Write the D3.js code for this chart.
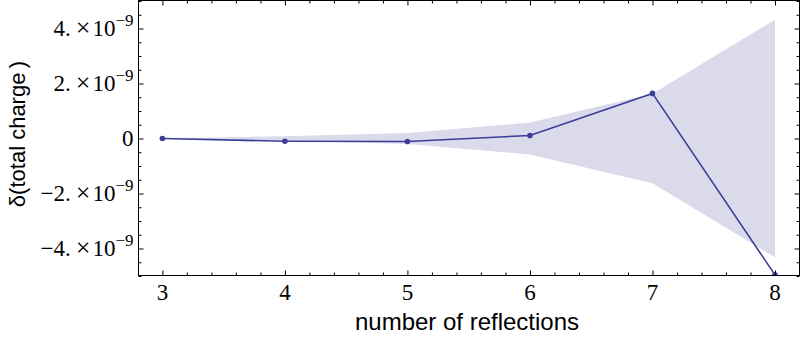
<!DOCTYPE html>
<html>
<head>
<meta charset="utf-8">
<script src="https://cdn.jsdelivr.net/npm/d3@7/dist/d3.min.js"></script>
<style>
  body { margin: 0; background: #fff; }
  svg { display: block; }
</style>
</head>
<body>
<div id="chart"></div>
<script>
// reflections vs charge error
var reflections = [3, 4, 5, 6, 7, 8];
var deltaCharge = [0, -0.10e-9, -0.11e-9, 0.11e-9, 1.64e-9, -4.96e-9];
var bandHalf = [0.01e-9, 0.08e-9, 0.20e-9, 0.58e-9, 1.63e-9, 4.32e-9];
var xTicks = [3, 4, 5, 6, 7, 8];
var yTicks = [-4e-9, -2e-9, 0, 2e-9, 4e-9];
var yTickMant = ["\u22124.", "\u22122.", "0", "2.", "4."];

var width = 800, height = 339;
var pLeft = 138.5, pRight = 799.5, pTop = 0.5, pBottom = 275.5;

var svg = d3.select("#chart")
    .append("svg")
    .attr("width", width)
    .attr("height", height);

var x = d3.scaleLinear().domain([2.805, 8.2]).range([pLeft, pRight]);
var y = d3.scaleLinear().domain([-5e-9, 5e-9]).range([pBottom + 0.5, pTop + 0.5]);

var lineColor = "#3d3d99";

svg.append("clipPath").attr("id", "clip")
  .append("rect")
    .attr("x", pLeft).attr("y", pTop)
    .attr("width", pRight - pLeft).attr("height", pBottom - pTop);

var plot = svg.append("g").attr("clip-path", "url(#clip)");

var rows = reflections.map(function (r, i) {
  return { r: r, v: deltaCharge[i], h: bandHalf[i] };
});

var area = d3.area()
  .x(function (d) { return x(d.r); })
  .y0(function (d) { return y(-d.h); })
  .y1(function (d) { return y(d.h); });

plot.append("path")
  .datum(rows)
  .attr("d", area)
  .attr("fill", "#dadaeb");

var line = d3.line()
  .x(function (d) { return x(d.r); })
  .y(function (d) { return y(d.v); });

plot.append("path")
  .datum(rows)
  .attr("d", line)
  .attr("fill", "none")
  .attr("stroke", lineColor)
  .attr("stroke-width", 1.6);

plot.selectAll("circle")
  .data(rows)
  .enter().append("circle")
  .attr("cx", function (d) { return x(d.r); })
  .attr("cy", function (d) { return y(d.v); })
  .attr("r", 2.8)
  .attr("fill", lineColor);

// axes with minor ticks
var xMinor = d3.range(2.8, 8.21, 0.2).filter(function (v) {
  return v >= 2.805 && Math.abs(v - Math.round(v)) > 0.01;
});
var yMinor = d3.range(-5e-9, 5.01e-9, 0.5e-9).filter(function (v) {
  return Math.abs(v / 1e-9 - Math.round(v / 2e-9) * 2) > 0.01;
});

function addAxis(axisFn, scale, ticks, size, transform) {
  return svg.append("g")
    .attr("transform", transform)
    .call(axisFn(scale).tickValues(ticks).tickSize(size).tickFormat(""))
    .call(function (g) {
      g.select(".domain").remove();
      g.selectAll("line").attr("stroke", "#000");
    });
}

// bottom / top
addAxis(d3.axisTop, x, xTicks, 5, "translate(0," + pBottom + ")");
addAxis(d3.axisTop, x, xMinor, 3, "translate(0," + pBottom + ")");
addAxis(d3.axisBottom, x, xTicks, 5, "translate(0," + pTop + ")");
addAxis(d3.axisBottom, x, xMinor, 3, "translate(0," + pTop + ")");
// left / right
addAxis(d3.axisRight, y, yTicks, 5, "translate(" + pLeft + ",0)");
addAxis(d3.axisRight, y, yMinor, 3, "translate(" + pLeft + ",0)");
addAxis(d3.axisLeft, y, yTicks, 5, "translate(" + pRight + ",0)");
addAxis(d3.axisLeft, y, yMinor, 3, "translate(" + pRight + ",0)");

svg.append("rect")
  .attr("x", pLeft).attr("y", pTop)
  .attr("width", pRight - pLeft).attr("height", pBottom - pTop)
  .attr("fill", "none")
  .attr("stroke", "#000")
  .attr("stroke-width", 1);

// tick labels
var serif = "'Liberation Serif', 'Times New Roman', serif";

svg.append("g").selectAll("text")
  .data(xTicks)
  .enter().append("text")
  .attr("x", function (d) { return x(d); })
  .attr("y", pBottom + 24)
  .attr("text-anchor", "middle")
  .attr("font-family", serif)
  .attr("font-size", 23)
  .text(function (d) { return d; });

var yl = svg.append("g").selectAll("text")
  .data(yTicks)
  .enter().append("text")
  .attr("x", pLeft - 5)
  .attr("y", function (d) { return y(d) + 7; })
  .attr("text-anchor", "end")
  .attr("font-family", serif)
  .attr("font-size", 23);

yl.each(function (d, i) {
  var t = d3.select(this);
  t.append("tspan").text(yTickMant[i]);
  if (d !== 0) {
    t.append("tspan").text("\u00d7").attr("dx", 5).attr("font-size", 26);
    t.append("tspan").text("10").attr("dx", 2);
    t.append("tspan").text("\u22129").attr("dy", -10).attr("font-size", 17);
  }
});

// axis titles
var sans = "'Liberation Sans', Arial, sans-serif";
svg.append("text")
  .attr("x", (pLeft + pRight) / 2 - 2)
  .attr("y", 330)
  .attr("text-anchor", "middle")
  .attr("font-family", sans)
  .attr("font-size", 24)
  .text("number of reflections");

svg.append("text")
  .attr("transform", "translate(25,134) rotate(-90)")
  .attr("text-anchor", "middle")
  .attr("font-family", sans)
  .attr("font-size", 22)
  .text("\u03b4(total charge\u2009)");
</script>
</body>
</html>
